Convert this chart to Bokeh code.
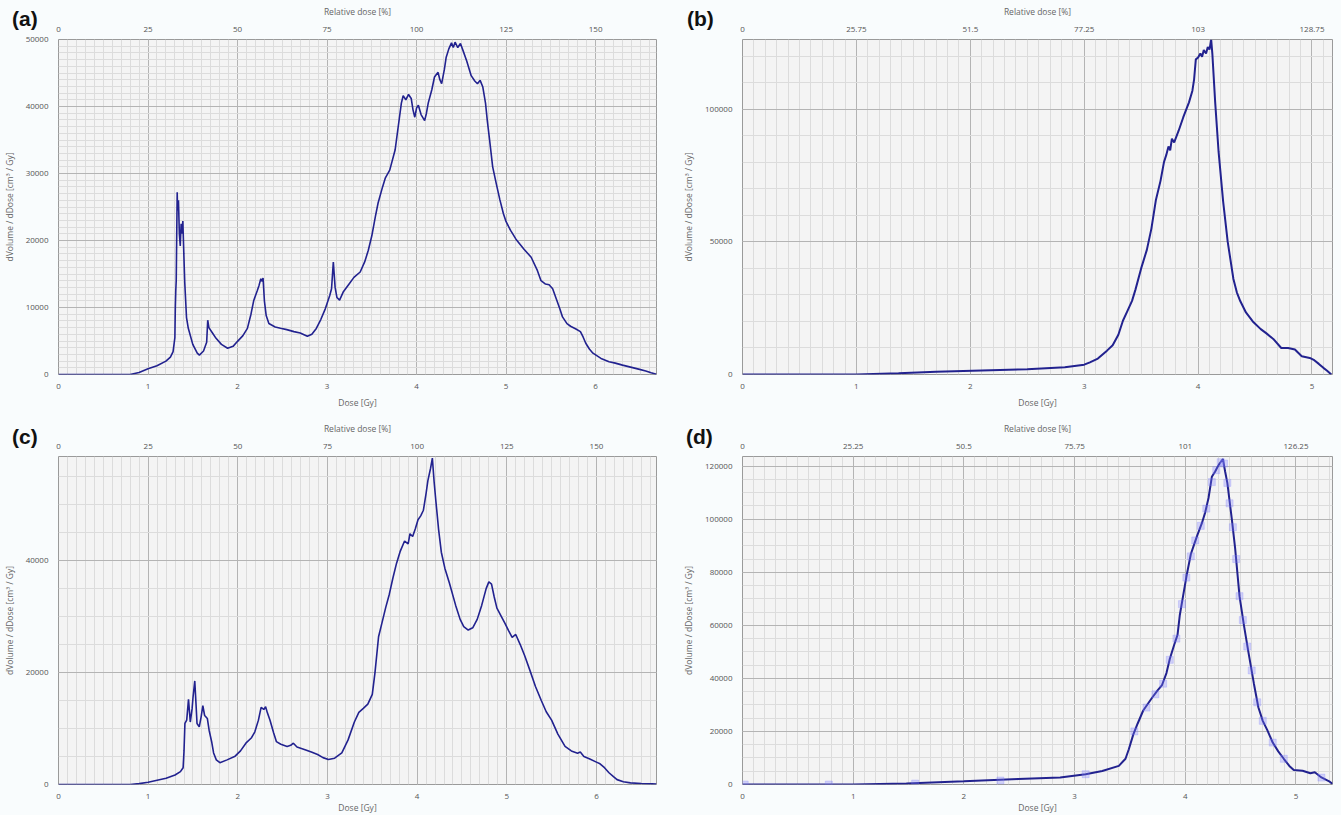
import numpy as np
from bokeh.plotting import figure
from bokeh.models import Range1d, LinearAxis, FixedTicker, BasicTickFormatter, GridBox, Div
from bokeh.embed import file_html
from bokeh.resources import INLINE

# ---------------- data ----------------
# Panel (a)
dose_a = [0, 0.8, 0.9, 1.0, 1.1, 1.2, 1.25, 1.28, 1.3, 1.305, 1.31, 1.315, 1.32, 1.326, 1.33, 1.34, 1.35,
          1.36, 1.37, 1.38, 1.389, 1.40, 1.41, 1.43, 1.45, 1.5, 1.55, 1.574, 1.62, 1.655, 1.667, 1.68, 1.72,
          1.76, 1.82, 1.889, 1.95, 2.0, 2.06, 2.11, 2.15, 2.18, 2.22, 2.24, 2.26, 2.27, 2.285, 2.30, 2.32,
          2.35, 2.42, 2.48, 2.55, 2.63, 2.70, 2.78, 2.83, 2.88, 2.93, 2.98, 3.03, 3.05, 3.07, 3.09, 3.11,
          3.14, 3.18, 3.24, 3.30, 3.37, 3.42, 3.46, 3.50, 3.54, 3.57, 3.62, 3.65, 3.70, 3.76, 3.80, 3.83,
          3.85, 3.88, 3.91, 3.94, 3.96, 3.98, 4.0, 4.02, 4.05, 4.09, 4.11, 4.13, 4.17, 4.20, 4.24, 4.26,
          4.28, 4.31, 4.33, 4.36, 4.39, 4.41, 4.43, 4.46, 4.49, 4.52, 4.56, 4.61, 4.65, 4.68, 4.71, 4.74,
          4.77, 4.79, 4.82, 4.85, 4.89, 4.93, 4.97, 5.0, 5.05, 5.11, 5.2, 5.28, 5.35, 5.39, 5.44, 5.48,
          5.52, 5.56, 5.6, 5.63, 5.68, 5.72, 5.78, 5.83, 5.86, 5.89, 5.93, 5.97, 6.06, 6.15, 6.22, 6.3,
          6.39, 6.48, 6.56, 6.62, 6.68]
vol_a = [0, 0, 300, 850, 1300, 2000, 2600, 3400, 5500, 10000, 12500, 14000, 20000, 27200, 24500, 26000, 21000,
         19200, 22500, 21000, 22900, 18000, 13800, 8500, 6900, 4500, 3200, 2900, 3500, 4800, 8100, 7000, 6200,
         5400, 4500, 3920, 4200, 4950, 5800, 6880, 9000, 11000, 12500, 13300, 14300, 13900, 14400, 11000, 8800,
         7600, 7100, 6900, 6700, 6400, 6200, 5700, 6000, 6880, 8200, 9800, 11800, 12800, 16800, 13000, 11500,
         11100, 12300, 13400, 14500, 15300, 16800, 18500, 20700, 23600, 25600, 28000, 29300, 30500, 33500, 37500, 40500,
         41600, 41000, 41800, 41200, 39500, 38400, 39800, 40200, 38800, 37900, 39000, 40500, 42500, 44400, 45100, 44000,
         43400, 45500, 47300, 48600, 49500, 48800, 49600, 48800, 49400, 48300, 46800, 44600, 43800, 43400, 43900, 42900,
         40500, 37900, 34500, 31000, 28500, 26100, 24000, 22800, 21500, 20200, 18700, 17500, 15500, 14000, 13500, 13400,
         12800, 11300, 9800, 8600, 7600, 7200, 6800, 6400, 5600, 4660, 3800, 3180, 2400, 1900, 1700, 1400,
         1100, 800, 520, 250, 50]

# Panel (b)
dose_b = [0, 1.0, 1.37, 1.7, 2.1, 2.5, 2.83, 3.0, 3.05, 3.12, 3.2, 3.25, 3.3, 3.34, 3.38, 3.42, 3.45, 3.5,
          3.55, 3.59, 3.63, 3.67, 3.70, 3.72, 3.74, 3.755, 3.77, 3.79, 3.83, 3.87, 3.92, 3.95, 3.965, 3.98,
          4.00, 4.02, 4.035, 4.05, 4.07, 4.085, 4.10, 4.115, 4.125, 4.15, 4.18, 4.22, 4.26, 4.31, 4.34, 4.37,
          4.42, 4.48, 4.55, 4.6, 4.66, 4.73, 4.79, 4.85, 4.91, 4.98, 5.02, 5.06, 5.1, 5.13, 5.17]
vol_b = [0, 0, 500, 1000, 1500, 2000, 2750, 3700, 4600, 6000, 9000, 11000, 15000, 20250, 24000, 27750, 32000, 40000,
         47000, 55000, 65900, 73000, 80000, 82700, 86000, 84500, 88900, 87500, 92000, 97000, 102600, 107000, 111300, 118800,
         119500, 121000, 119800, 122300, 121000, 123500, 122500, 126200, 121000, 102600, 83900, 65200, 50000, 36000, 31000, 27700,
         23400, 20000, 17100, 15500, 13400, 10000, 10000, 9400, 6900, 6250, 5400, 4000, 2500, 1500, 0]

# Panel (c)
dose_c = [0, 0.8, 0.9, 1.0, 1.1, 1.2, 1.3, 1.36, 1.39, 1.40, 1.41, 1.43, 1.45, 1.47, 1.49, 1.50, 1.52, 1.535,
          1.545, 1.57, 1.59, 1.61, 1.63, 1.66, 1.68, 1.71, 1.73, 1.76, 1.80, 1.88, 1.97, 2.03, 2.09, 2.15,
          2.19, 2.23, 2.26, 2.29, 2.31, 2.33, 2.36, 2.40, 2.43, 2.48, 2.55, 2.59, 2.62, 2.66, 2.75, 2.82,
          2.89, 2.95, 3.01, 3.08, 3.16, 3.23, 3.30, 3.35, 3.40, 3.45, 3.50, 3.53, 3.57, 3.61, 3.65, 3.69,
          3.73, 3.77, 3.81, 3.86, 3.90, 3.92, 3.95, 3.98, 4.01, 4.04, 4.07, 4.10, 4.12, 4.15, 4.17, 4.19,
          4.21, 4.24, 4.27, 4.31, 4.36, 4.43, 4.48, 4.52, 4.57, 4.62, 4.67, 4.72, 4.77, 4.80, 4.83, 4.86,
          4.89, 4.94, 4.98, 5.02, 5.06, 5.10, 5.15, 5.20, 5.26, 5.32, 5.385, 5.44, 5.5, 5.57, 5.65, 5.72,
          5.79, 5.82, 5.86, 5.92, 6.0, 6.04, 6.09, 6.14, 6.19, 6.23, 6.3, 6.38, 6.5, 6.62, 6.67]
vol_c = [0, 0, 150, 400, 750, 1100, 1700, 2300, 3000, 6000, 10900, 11500, 15200, 11160, 13500, 15500, 18500, 14000,
         10900, 10300, 12000, 14070, 12330, 11800, 9700, 7500, 5640, 4400, 3900, 4400, 5060, 6000, 7380, 8300,
         9420, 11500, 13780, 13400, 13900, 12800, 11450, 9200, 7670, 7200, 6800, 7000, 7380, 6700, 6220, 5800,
         5350, 4800, 4480, 4700, 5640, 7970, 11160, 12900, 13600, 14360, 16100, 20000, 26400, 29000, 31650, 34000,
         36900, 39500, 41600, 43500, 43000, 44800, 44300, 45700, 47300, 48000, 49000, 52000, 54300, 56500, 58300, 54000,
         50500, 45500, 41500, 38600, 36000, 32000, 29500, 28200, 27600, 28000, 29500, 32000, 35000, 36200, 35800, 33500,
         31500, 30000, 28800, 27500, 26300, 26800, 25000, 23000, 20300, 17500, 15000, 13000, 11500, 9000, 6800, 6000,
         5600, 5800, 5000, 4600, 4000, 3700, 3000, 2100, 1400, 870, 500, 290, 180, 120, 80]

# Panel (d)
dose_d = [0, 1.0, 1.48, 2.0, 2.49, 2.87, 3.10, 3.25, 3.40, 3.46, 3.49, 3.53, 3.57, 3.62, 3.70, 3.75, 3.79, 3.83,
          3.86, 3.90, 3.93, 3.95, 3.98, 4.01, 4.05, 4.08, 4.11, 4.15, 4.18, 4.21, 4.24, 4.27, 4.29, 4.31,
          4.34, 4.36, 4.38, 4.42, 4.45, 4.49, 4.53, 4.57, 4.62, 4.66, 4.70, 4.74, 4.79, 4.84, 4.89, 4.94,
          4.98, 5.06, 5.13, 5.17, 5.23, 5.30, 5.33]
vol_d = [0, 0, 360, 1200, 2060, 2670, 3880, 5100, 7030, 9700, 13300, 18800, 23000, 27900, 32700, 35500, 37500, 42000,
         47300, 52700, 56400, 63700, 71000, 78300, 86800, 90500, 94100, 98500, 102600, 108000, 116000, 118000, 119600, 121000,
         122700, 118000, 113700, 100200, 89200, 71000, 60000, 50000, 38000, 29100, 24000, 20600, 15800, 12500, 9700, 7000,
         5450, 5200, 4240, 4600, 2670, 1200, 200]
# sample markers drawn over curve (d)
mark_dose_d = [0.02, 0.78, 1.56, 2.33, 3.10, 3.54, 3.65, 3.73, 3.80, 3.86, 3.92, 3.97, 4.01, 4.05, 4.09, 4.14,
               4.19, 4.24, 4.28, 4.32, 4.35, 4.38, 4.40, 4.43, 4.46, 4.49, 4.52, 4.56, 4.60, 4.65, 4.70, 4.79,
               4.89, 5.23]
mark_vol_d = [0, 0, 360, 1500, 3880, 20000, 29000, 34000, 38000, 47000, 55000, 68000, 78000, 86000, 92000, 97500,
              104000, 114000, 118500, 121500, 121000, 113700, 106000, 97000, 85000, 71000, 62000, 52000, 43000, 31000,
              24000, 15800, 9700, 2600]

dose_ticks_6 = [0, 1, 2, 3, 4, 5, 6]
dose_ticks_5 = [0, 1, 2, 3, 4, 5]
rel_ticks_a = [0, 25, 50, 75, 100, 125, 150]
rel_ticks_b = [0, 25.75, 51.5, 77.25, 103, 128.75]
rel_ticks_c = [0, 25, 50, 75, 100, 125, 150]
rel_ticks_d = [0, 25.25, 50.5, 75.75, 101, 126.25]
rel_per_gy = {"a": 25.0, "b": 25.75, "c": 25.0, "d": 25.25}
yticks_a = [0, 10000, 20000, 30000, 40000, 50000]
yticks_b = [0, 50000, 100000]
yticks_c = [0, 20000, 40000]
yticks_d = [0, 20000, 40000, 60000, 80000, 100000, 120000]
panel_tags = ["(a)", "(b)", "(c)", "(d)"]

# ---------------- styling ----------------
LINE = "#22228f"
FONT = "Open Sans"
TICK_COLOR = "#555555"
LABEL_COLOR = "#666666"
PAGE_BG = "#f9fcfd"
PLOT_BG = "#f4f4f4"


def style_axis(ax, label_standoff=5, tick_standoff=3):
    ax.major_tick_line_color = None
    ax.minor_tick_line_color = None
    ax.axis_line_color = None
    ax.major_label_text_font = FONT
    ax.major_label_text_font_size = "8px"
    ax.major_label_text_color = TICK_COLOR
    ax.major_label_standoff = tick_standoff
    ax.axis_label_text_font = FONT
    ax.axis_label_text_font_size = "8.5px"
    ax.axis_label_text_font_style = "normal"
    ax.axis_label_text_color = LABEL_COLOR
    ax.axis_label_standoff = label_standoff


def make_panel(tag, dose, vol, xmax, ymax, xticks, yticks, ystep_minor, rel_ticks, width, height,
               left, right, top, bottom, lw, bot_label_standoff=5):
    p = figure(width=width, height=height, output_backend="svg", toolbar_location=None,
               x_range=Range1d(0, xmax), y_range=Range1d(0, ymax),
               min_border_left=left, min_border_right=right, min_border_top=top, min_border_bottom=bottom,
               background_fill_color=PLOT_BG, border_fill_color=PAGE_BG, border_fill_alpha=0.0)
    p.outline_line_color = "#9a9a9a"
    p.outline_line_width = 1

    xt = FixedTicker(ticks=xticks, minor_ticks=np.round(np.arange(0, xmax + 1e-9, 0.1), 2).tolist())
    yt = FixedTicker(ticks=yticks, minor_ticks=np.arange(0, ymax + 1, ystep_minor).tolist())
    p.xaxis[0].ticker = xt
    p.yaxis[0].ticker = yt
    p.xgrid[0].ticker = xt
    p.ygrid[0].ticker = yt
    p.yaxis[0].formatter = BasicTickFormatter(use_scientific=False)
    p.xaxis[0].axis_label = "Dose [Gy]"
    p.yaxis[0].axis_label = "dVolume / dDose [cm³ / Gy]"
    style_axis(p.xaxis[0], label_standoff=bot_label_standoff)
    style_axis(p.yaxis[0], label_standoff=8, tick_standoff=4)

    for g in (p.xgrid[0], p.ygrid[0]):
        g.grid_line_color = "#b4b4b4"
        g.grid_line_width = 1
        g.minor_grid_line_color = "#dcdcdc"
        g.minor_grid_line_width = 1

    k = rel_per_gy[tag]
    p.extra_x_ranges = {"rel": Range1d(0, xmax * k)}
    top_ax = LinearAxis(x_range_name="rel", ticker=FixedTicker(ticks=rel_ticks),
                        axis_label="Relative dose [%]")
    style_axis(top_ax, label_standoff=7, tick_standoff=2)
    p.add_layout(top_ax, "above")

    p.line(dose, vol, line_color=LINE, line_width=lw)
    return p


pa = make_panel("a", dose_a, vol_a, 6.68, 50000, dose_ticks_6, yticks_a, 1000, rel_ticks_a,
                680, 410, 55, 24, 39, 34, 1.6)
pb = make_panel("b", dose_b, vol_b, 5.18, 126300, dose_ticks_5, yticks_b, 10000, rel_ticks_b,
                661, 410, 53, 9, 37, 36, 2.0)
pc = make_panel("c", dose_c, vol_c, 6.67, 58600, dose_ticks_6, yticks_c, 5000, rel_ticks_c,
                680, 405, 58, 24, 45, 23, 1.6, bot_label_standoff=0)
pd = make_panel("d", dose_d, vol_d, 5.33, 123650, dose_ticks_5, yticks_d, 5000, rel_ticks_d,
                661, 405, 58, 6, 46, 21, 2.0, bot_label_standoff=0)
pd.scatter(mark_dose_d, mark_vol_d, marker="square", size=7, fill_color="#8080ff", fill_alpha=0.3,
           line_color="#8080ff", line_alpha=0.25)


def tag_div(text, pad_left, pad_top):
    return Div(text=text, width=50, height=32, align="start",
               styles={"position": "relative", "z-index": "10",
                       "font-family": "Liberation Sans, Arial, sans-serif", "font-weight": "bold",
                       "font-size": "21px", "color": "#111111", "line-height": "1",
                       "padding-left": f"{pad_left}px", "padding-top": f"{pad_top}px"})


divs = [tag_div(panel_tags[0], 7, 3), tag_div(panel_tags[1], 2, 3),
        tag_div(panel_tags[2], 7, 11), tag_div(panel_tags[3], 1, 11)]

grid = GridBox(children=[(pa, 0, 0), (pb, 0, 1), (pc, 1, 0), (pd, 1, 1),
                         (divs[0], 0, 0), (divs[1], 0, 1), (divs[2], 1, 0), (divs[3], 1, 1)],
               spacing=0, styles={"background-color": PAGE_BG})
open("out.html", "w").write(file_html(grid, INLINE))
